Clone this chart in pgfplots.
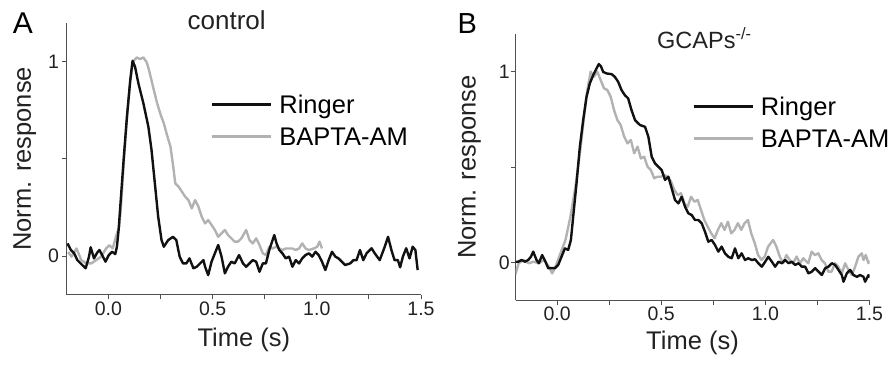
\documentclass[border=0pt]{standalone}
\usepackage{pgfplots}
\pgfplotsset{compat=1.18}
\usepackage{fontspec}
\setmainfont{Liberation Sans}
\definecolor{axcol}{HTML}{505050}
\definecolor{tkcol}{HTML}{222222}
\definecolor{gcurve}{HTML}{B2B2B2}
\definecolor{bcurve}{HTML}{111111}
\pgfplotsset{
  panel/.style={
    anchor=south west, scale only axis,
    xmin=-0.2, xmax=1.5, ymin=-0.2, ymax=1.2,
    axis x line*=bottom, axis y line*=left,
    axis line style={-, draw=axcol, line width=1.1pt},
    xtick={0,0.5,1,1.5}, xticklabels={0.0,0.5,1.0,1.5},
    minor xtick={0.25,0.75,1.25},
    ytick={0,1}, yticklabels={0,1}, minor ytick={0.5},
    tick align=outside, major tick length=4.5pt, minor tick length=4.5pt,
    every tick/.style={draw=axcol, line width=0.9pt},
    every minor tick/.style={draw=axcol, line width=0.9pt},
    /pgf/number format/assume math mode=true,
    ticklabel style={font=\fontsize{19.5}{22}\selectfont, text=tkcol},
    xticklabel style={anchor=north, inner sep=0pt, yshift=-2pt},
    label style={font=\fontsize{25.5}{30}\selectfont, text=tkcol},
    xlabel={Time (s)}, ylabel={Norm. response},
    legend cell align=left,
    legend image code/.code={\draw[#1] (0pt,0pt) -- (59pt,0pt);},
    legend style={draw=none, fill=none, inner sep=0pt, outer sep=0pt,
      column sep=7pt, row sep=12.7pt, anchor=north west,
      font=\fontsize{25.5}{30}\selectfont,
      nodes={inner sep=0pt, text height=18.3pt, text depth=0.8pt}},
    reverse legend,
  },
  bl/.style={draw=bcurve, line width=2.4pt, line join=round, no marks},
  gr/.style={draw=gcurve, line width=2.4pt, line join=round, no marks},
}
\begin{document}
\begin{tikzpicture}
\useasboundingbox (0pt,0pt) rectangle (888pt,365pt);
% ---------------- Panel A ----------------
\begin{axis}[panel, at={(66.7pt,70.1pt)}, width=354.3pt, height=272pt,
  yticklabel style={anchor=east, inner sep=0pt, xshift=-3pt},
  xlabel style={at={(axis description cs:0.5,0)}, anchor=base, yshift=-51.8pt},
  ylabel style={at={(axis description cs:-0.1008,0.5)}, anchor=base},
  legend style={at={(axis description cs:0.4073,0.7349)}},
]
\addplot[gr] coordinates {
(-0.193,0.021) (-0.177,-0.003) (-0.153,0.039) (-0.130,-0.021) (-0.106,-0.038) (-0.082,-0.038) (-0.059,-0.021) (-0.035,-0.003) (-0.011,0.039) (0.005,0.056) (0.021,0.039) (0.036,0.099) (0.052,0.151) (0.060,0.25) (0.075,0.5) (0.090,0.72) (0.105,0.90) (0.118,1.0) (0.136,1.022) (0.152,1.014) (0.168,1.022) (0.184,0.997) (0.195,0.957) (0.215,0.868) (0.234,0.786) (0.250,0.730) (0.266,0.683) (0.282,0.620) (0.298,0.563) (0.310,0.470) (0.321,0.374) (0.337,0.357) (0.353,0.331) (0.369,0.305) (0.384,0.288) (0.400,0.245) (0.416,0.288) (0.432,0.254) (0.448,0.202) (0.464,0.168) (0.479,0.185) (0.495,0.160) (0.511,0.134) (0.527,0.099) (0.543,0.117) (0.559,0.134) (0.574,0.108) (0.590,0.091) (0.606,0.074) (0.622,0.074) (0.638,0.091) (0.661,0.134) (0.677,0.082) (0.693,0.065) (0.709,0.091) (0.725,0.057) (0.741,0.014) (0.756,0.005) (0.772,0.048) (0.788,0.039) (0.804,0.048) (0.820,0.039) (0.835,0.031) (0.851,0.039) (0.867,0.039) (0.883,0.039) (0.899,0.031) (0.915,0.039) (0.930,0.065) (0.946,0.039) (0.962,0.031) (0.986,0.039) (1.002,0.048) (1.013,0.074) (1.025,0.039)
};
\addlegendentry{BAPTA-AM}
\addplot[bl] coordinates {
(-0.196,0.065) (-0.180,0.031) (-0.164,0.014) (-0.149,-0.021) (-0.133,-0.038) (-0.109,-0.063) (-0.093,-0.003) (-0.085,0.045) (-0.069,-0.012) (-0.054,0.017) (-0.043,0.031) (-0.030,0.005) (-0.014,-0.029) (0.002,0.005) (0.018,0.022) (0.033,0.010) (0.041,0.048) (0.049,0.134) (0.057,0.254) (0.073,0.494) (0.089,0.717) (0.105,0.906) (0.116,1.005) (0.128,0.974) (0.144,0.889) (0.168,0.786) (0.192,0.665) (0.207,0.546) (0.223,0.374) (0.239,0.202) (0.255,0.082) (0.266,0.048) (0.287,0.082) (0.310,0.099) (0.326,0.082) (0.342,-0.003) (0.358,-0.038) (0.374,-0.038) (0.389,-0.012) (0.408,-0.063) (0.424,-0.055) (0.440,-0.038) (0.456,-0.021) (0.464,-0.055) (0.479,-0.098) (0.495,-0.029) (0.511,0.014) (0.527,0.057) (0.543,-0.003) (0.559,-0.089) (0.574,-0.055) (0.590,-0.029) (0.606,-0.038) (0.627,0.005) (0.646,-0.038) (0.661,-0.055) (0.677,-0.038) (0.693,-0.021) (0.709,-0.029) (0.725,-0.081) (0.741,-0.038) (0.756,-0.038) (0.772,0.031) (0.788,0.082) (0.796,0.108) (0.807,0.065) (0.820,0.031) (0.835,0.014) (0.851,-0.012) (0.867,-0.003) (0.883,-0.055) (0.899,-0.021) (0.915,-0.038) (0.930,-0.012) (0.946,0.005) (0.962,0.014) (0.978,-0.003) (0.994,0.022) (1.009,0.005) (1.025,-0.029) (1.041,-0.072) (1.057,-0.021) (1.073,0.022) (1.089,-0.003) (1.104,-0.012) (1.120,-0.029) (1.136,-0.046) (1.160,-0.038) (1.176,-0.021) (1.191,-0.021) (1.207,0.031) (1.223,-0.021) (1.239,0.014) (1.263,0.040) (1.278,0.014) (1.302,-0.021) (1.326,0.048) (1.342,0.099) (1.358,0.031) (1.373,-0.021) (1.389,-0.021) (1.400,-0.058) (1.413,-0.003) (1.429,0.040) (1.445,-0.012) (1.460,0.048) (1.473,0.031) (1.484,-0.072)
};
\addlegendentry{Ringer}
\end{axis}
% ---------------- Panel B ----------------
\begin{axis}[panel, at={(515.5pt,64.6pt)}, width=354pt, height=266.8pt,
  yticklabel style={anchor=east, inner sep=0pt, xshift=-1pt},
  xlabel style={at={(axis description cs:0.5,0)}, anchor=base, yshift=-48.6pt},
  ylabel style={at={(axis description cs:-0.1127,0.5)}, anchor=base},
  legend style={at={(axis description cs:0.5000,0.7624)}},
]
\addplot[gr] coordinates {
(-0.201,-0.066) (-0.185,-0.005) (-0.161,0.012) (-0.137,-0.005) (-0.113,0.003) (-0.088,-0.005) (-0.064,0.012) (-0.040,-0.023) (-0.024,-0.058) (-0.008,-0.023) (0.016,0.047) (0.040,0.117) (0.064,0.240) (0.088,0.397) (0.113,0.607) (0.129,0.764) (0.145,0.904) (0.161,1.000) (0.177,0.974) (0.193,1.000) (0.209,0.956) (0.225,0.913) (0.241,0.904) (0.257,0.869) (0.273,0.799) (0.289,0.747) (0.305,0.720) (0.322,0.659) (0.338,0.624) (0.354,0.642) (0.370,0.572) (0.386,0.607) (0.402,0.545) (0.418,0.554) (0.434,0.502) (0.450,0.484) (0.466,0.441) (0.482,0.449) (0.498,0.449) (0.514,0.458) (0.531,0.449) (0.547,0.423) (0.563,0.379) (0.579,0.353) (0.595,0.362) (0.611,0.309) (0.627,0.292) (0.643,0.344) (0.659,0.318) (0.675,0.327) (0.691,0.274) (0.707,0.222) (0.723,0.187) (0.740,0.152) (0.756,0.126) (0.772,0.170) (0.788,0.205) (0.804,0.170) (0.820,0.213) (0.836,0.152) (0.852,0.170) (0.868,0.205) (0.884,0.170) (0.900,0.205) (0.916,0.222) (0.932,0.152) (0.949,0.100) (0.965,0.038) (0.981,0.012) (0.997,0.030) (1.013,0.082) (1.037,0.117) (1.053,0.082) (1.069,0.030) (1.085,-0.005) (1.101,0.038) (1.117,0.012) (1.133,-0.005) (1.150,0.030) (1.166,-0.005) (1.182,0.021) (1.206,-0.005) (1.222,0.056) (1.238,0.038) (1.254,0.047) (1.270,0.012) (1.286,-0.005) (1.302,-0.049) (1.318,-0.049) (1.334,-0.005) (1.350,-0.023) (1.367,-0.058) (1.383,-0.005) (1.399,-0.040) (1.415,-0.066) (1.431,-0.023) (1.447,0.030) (1.463,0.047) (1.471,0.012) (1.482,0.038) (1.495,-0.005) (1.500,0.010)
};
\addlegendentry{BAPTA-AM}
\addplot[bl] coordinates {
(-0.203,0.003) (-0.187,0.003) (-0.171,0.012) (-0.155,0.003) (-0.139,0.012) (-0.126,0.029) (-0.115,0.056) (-0.099,0.012) (-0.088,-0.005) (-0.072,0.038) (-0.056,0.003) (-0.043,-0.031) (-0.027,-0.031) (-0.011,-0.031) (0.005,-0.014) (0.021,0.029) (0.037,0.073) (0.053,0.065) (0.066,0.117) (0.077,0.239) (0.093,0.414) (0.109,0.606) (0.125,0.746) (0.141,0.868) (0.157,0.939) (0.173,0.982) (0.189,1.017) (0.200,1.040) (0.210,1.029) (0.221,0.999) (0.237,0.991) (0.262,0.987) (0.277,0.973) (0.293,0.947) (0.309,0.904) (0.325,0.877) (0.341,0.860) (0.357,0.799) (0.374,0.746) (0.398,0.720) (0.422,0.711) (0.438,0.659) (0.454,0.554) (0.470,0.519) (0.486,0.501) (0.502,0.484) (0.518,0.432) (0.534,0.449) (0.550,0.388) (0.566,0.327) (0.582,0.309) (0.598,0.344) (0.614,0.292) (0.630,0.257) (0.646,0.248) (0.662,0.222) (0.678,0.222) (0.694,0.205) (0.710,0.160) (0.726,0.108) (0.742,0.117) (0.758,0.091) (0.774,0.056) (0.790,0.082) (0.806,0.047) (0.822,0.029) (0.838,0.021) (0.854,0.073) (0.870,0.021) (0.886,0.047) (0.902,0.012) (0.918,0.021) (0.935,0.012) (0.950,0.016) (0.966,-0.005) (0.983,-0.023) (0.999,0.003) (1.014,0.029) (1.031,0.003) (1.047,-0.023) (1.063,0.003) (1.079,-0.005) (1.095,0.012) (1.111,-0.005) (1.127,0.003) (1.143,-0.014) (1.159,-0.005) (1.175,-0.023) (1.191,-0.023) (1.207,-0.058) (1.223,-0.049) (1.239,-0.031) (1.255,-0.049) (1.271,-0.067) (1.287,-0.031) (1.303,-0.023) (1.319,-0.005) (1.335,-0.014) (1.351,-0.040) (1.367,-0.067) (1.375,-0.102) (1.391,-0.058) (1.407,-0.040) (1.423,-0.067) (1.439,-0.076) (1.455,-0.067) (1.471,-0.076) (1.479,-0.102) (1.495,-0.067) (1.500,-0.080)
};
\addlegendentry{Ringer}
\end{axis}
% ---------------- Panel letters and titles ----------------
\node[anchor=base west, inner sep=0pt, font=\fontsize{30}{36}\selectfont, text=black] at (12.7pt,331.7pt) {A};
\node[anchor=base, inner sep=0pt, font=\fontsize{26}{30}\selectfont, text=tkcol] at (226.7pt,335.2pt) {control};
\node[anchor=base west, inner sep=0pt, font=\fontsize{29}{34}\selectfont, text=black] at (457.5pt,331.7pt) {B};
\node[anchor=base west, inner sep=0pt, font=\fontsize{23.5}{28}\selectfont, text=tkcol] at (657pt,316.7pt) {GCAPs\textsuperscript{-/-}};
\end{tikzpicture}
\end{document}
